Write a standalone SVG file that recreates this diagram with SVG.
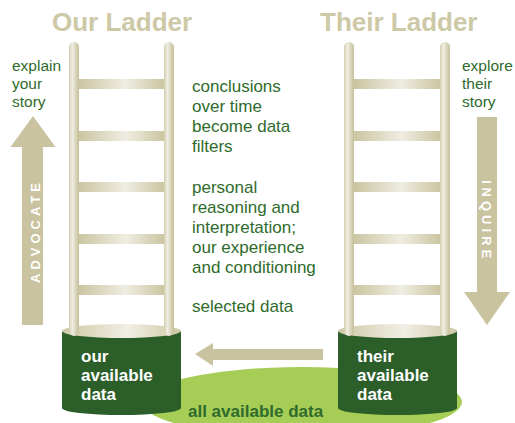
<svg xmlns="http://www.w3.org/2000/svg" width="515" height="423" viewBox="0 0 515 423">
<defs>
<linearGradient id="railG" x1="0" y1="0" x2="1" y2="0">
<stop offset="0" stop-color="#d3ceb0"/>
<stop offset="0.35" stop-color="#efede2"/>
<stop offset="1" stop-color="#c4be97"/>
</linearGradient>
<linearGradient id="rungG" x1="0" y1="0" x2="1" y2="0">
<stop offset="0" stop-color="#cbc5a1"/>
<stop offset="0.55" stop-color="#efede2"/>
<stop offset="1" stop-color="#cbc5a1"/>
</linearGradient>
<linearGradient id="topG" x1="0" y1="0" x2="1" y2="0">
<stop offset="0" stop-color="#cdc8a5"/>
<stop offset="0.55" stop-color="#f1efe5"/>
<stop offset="1" stop-color="#cdc8a5"/>
</linearGradient>
</defs>
<style>
.title{font-family:"Liberation Sans",Arial,sans-serif;font-weight:bold;font-size:26px;fill:#cdc8a6}
.lbl{font-family:"Liberation Sans",Arial,sans-serif;font-size:15.5px;fill:#2f6b2c}
.main{font-family:"Liberation Sans",Arial,sans-serif;font-size:17px;fill:#2f6b2c}
.cyl{font-family:"Liberation Sans",Arial,sans-serif;font-weight:bold;font-size:17px;fill:#ffffff}
.arrowtxt{font-family:"Liberation Sans",Arial,sans-serif;font-weight:bold;font-size:13px;fill:#ffffff;letter-spacing:4px}
.ground{font-family:"Liberation Sans",Arial,sans-serif;font-weight:bold;font-size:17px;fill:#2f6b2c}
.rail{fill:url(#railG)}
.rung{fill:url(#rungG)}
.body{fill:#2c5e2a}
.top{fill:url(#topG)}
.arr{fill:#c9c3a0}
</style>

<g id="ground">
<ellipse cx="302" cy="402" rx="160" ry="35" fill="#a6cd55"/>
<text class="ground" x="188" y="417">all available data</text>
</g>

<g id="title-our"><text class="title" x="52" y="31">Our Ladder</text></g>
<g id="title-their"><text class="title" x="320" y="31">Their Ladder</text></g>

<g id="cylinder-our">
<path class="body" d="M62,331 L62,408 A59.5,7 0 0 0 181,408 L181,331 Z"/>
<ellipse class="top" cx="121.5" cy="331" rx="59.5" ry="7"/>
</g>
<g id="cylinder-their">
<path class="body" d="M338,331 L338,408 A59.5,7 0 0 0 457,408 L457,331 Z"/>
<ellipse class="top" cx="397.5" cy="331" rx="59.5" ry="7"/>
</g>

<g id="ladder-our">
<rect class="rail" x="69" y="42" width="10" height="294" rx="5" ry="5"/>
<rect class="rail" x="164" y="42" width="10" height="294" rx="5" ry="5"/>
<rect class="rung" x="79" y="79" width="85" height="10"/>
<rect class="rung" x="79" y="131" width="85" height="10"/>
<rect class="rung" x="79" y="182" width="85" height="10"/>
<rect class="rung" x="79" y="234" width="85" height="10"/>
<rect class="rung" x="79" y="285" width="85" height="10"/>
</g>
<g id="ladder-their">
<rect class="rail" x="344" y="42" width="10" height="294" rx="5" ry="5"/>
<rect class="rail" x="440" y="42" width="10" height="294" rx="5" ry="5"/>
<rect class="rung" x="354" y="79" width="86" height="10"/>
<rect class="rung" x="354" y="131" width="86" height="10"/>
<rect class="rung" x="354" y="182" width="86" height="10"/>
<rect class="rung" x="354" y="234" width="86" height="10"/>
<rect class="rung" x="354" y="285" width="86" height="10"/>
</g>

<g id="cylinder-our-label">
<text class="cyl" x="81" y="362">our</text>
<text class="cyl" x="81" y="381">available</text>
<text class="cyl" x="81" y="400">data</text>
</g>
<g id="cylinder-their-label">
<text class="cyl" x="357" y="362">their</text>
<text class="cyl" x="357" y="381">available</text>
<text class="cyl" x="357" y="400">data</text>
</g>

<g id="connectors">
<polygon id="advocate-arrow" class="arr" points="33,116 55.5,147 43,147 43,325 22,325 22,147 10.5,147"/>
<polygon id="inquire-arrow" class="arr" points="477,117 497,117 497,292 510,292 487,325 464,292 477,292"/>
<polygon id="select-arrow" class="arr" points="195,354 213,343 213,349 323,349 323,360 213,360 213,366"/>
</g>

<g id="advocate-label"><text class="arrowtxt" text-anchor="middle" transform="translate(35,231) rotate(-90)" y="4.6">ADVOCATE</text></g>
<g id="inquire-label"><text class="arrowtxt" text-anchor="middle" transform="translate(487,221) rotate(90)" y="4.6">INQUIRE</text></g>

<g id="explain-label">
<text class="lbl" x="12" y="71">explain</text>
<text class="lbl" x="12" y="89">your</text>
<text class="lbl" x="12" y="107">story</text>
</g>
<g id="explore-label">
<text class="lbl" x="462" y="71">explore</text>
<text class="lbl" x="462" y="89">their</text>
<text class="lbl" x="462" y="107">story</text>
</g>

<g id="conclusions-text">
<text class="main" x="192" y="92">conclusions</text>
<text class="main" x="192" y="112">over time</text>
<text class="main" x="192" y="132">become data</text>
<text class="main" x="192" y="152">filters</text>
</g>
<g id="reasoning-text">
<text class="main" x="192" y="193">personal</text>
<text class="main" x="192" y="213">reasoning and</text>
<text class="main" x="192" y="233">interpretation;</text>
<text class="main" x="192" y="253">our experience</text>
<text class="main" x="192" y="273">and conditioning</text>
</g>
<g id="selected-text">
<text class="main" x="192" y="312">selected data</text>
</g>
</svg>
